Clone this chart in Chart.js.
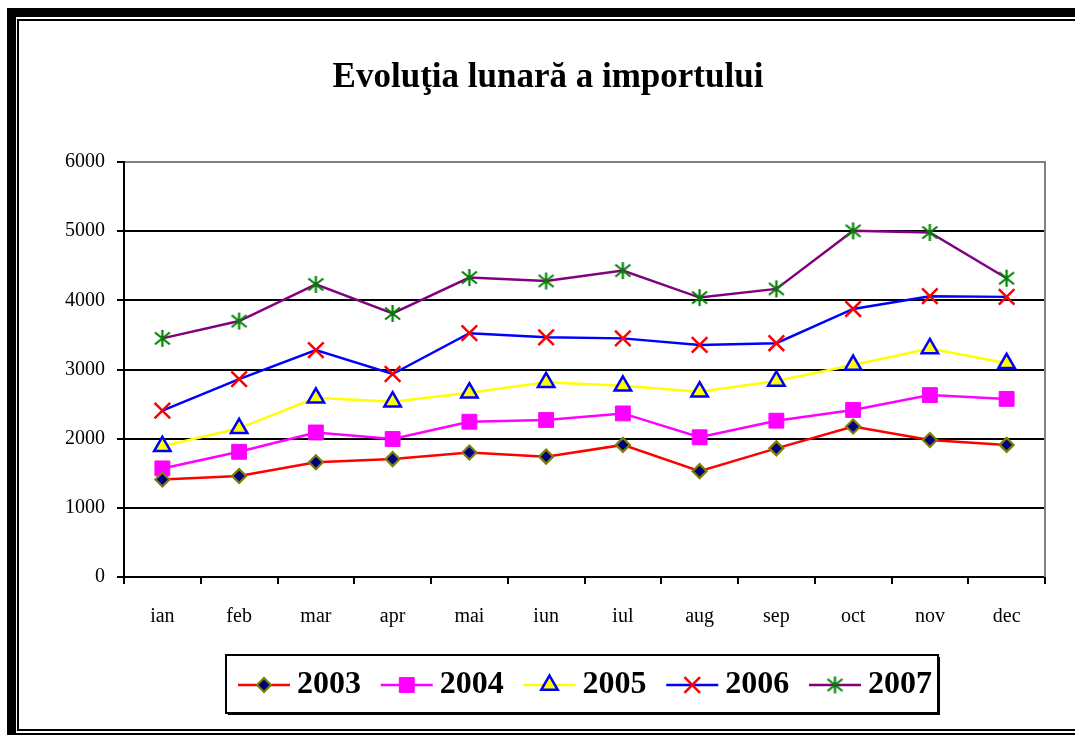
<!DOCTYPE html>
<html>
<head>
<meta charset="utf-8">
<title>Evoluţia lunară a importului</title>
<script src="https://cdn.jsdelivr.net/npm/chart.js@4.4.1/dist/chart.umd.min.js"></script>
<style>
  html, body { margin: 0; padding: 0; background: #fff; }
  canvas { display: block; }
</style>
</head>
<body>
<canvas id="importChart" width="1075" height="735"></canvas>
<script>
// luni + valori
var months = ['ian', 'feb', 'mar', 'apr', 'mai', 'iun', 'iul', 'aug', 'sep', 'oct', 'nov', 'dec'];
var years = ['2003', '2004', '2005', '2006', '2007'];
var imp2003 = [1410, 1460, 1660, 1705, 1800, 1740, 1910, 1530, 1860, 2175, 1980, 1910];
var imp2004 = [1570, 1810, 2090, 1995, 2245, 2270, 2365, 2020, 2260, 2415, 2630, 2575];
var imp2005 = [1890, 2150, 2590, 2535, 2665, 2815, 2765, 2680, 2835, 3065, 3305, 3090];
var imp2006 = [2405, 2860, 3280, 2935, 3525, 3465, 3450, 3355, 3380, 3875, 4060, 4050];
var imp2007 = [3450, 3700, 4230, 3810, 4330, 4280, 4430, 4040, 4165, 5005, 4980, 4320];
var yMax = 6000;
var yStep = 1000;

var serif = "'Liberation Serif', 'Times New Roman', serif";

// marker asterisc (vertical + X), ca in Excel
function makeStar(color) {
    var c = document.createElement('canvas');
    c.width = 19;
    c.height = 19;
    var g = c.getContext('2d');
    g.strokeStyle = color;
    g.lineWidth = 2.2;
    g.beginPath();
    g.moveTo(9.5, 1); g.lineTo(9.5, 18);
    g.moveTo(2, 3.5); g.lineTo(17, 15.5);
    g.moveTo(17, 3.5); g.lineTo(2, 15.5);
    g.stroke();
    return c;
}
var starMarker = makeStar('#008000');

// rama exterioara a foii
var framePlugin = {
    id: 'frame',
    beforeDraw: function(chart) {
        var ctx = chart.ctx;
        ctx.save();
        ctx.fillStyle = '#fff';
        ctx.fillRect(0, 0, chart.width, chart.height);
        ctx.fillStyle = '#000';
        ctx.fillRect(7, 8, chart.width, 9);
        ctx.fillRect(7, 8, 9, chart.height);
        ctx.fillRect(7, 733, chart.width, 2);
        ctx.strokeStyle = '#000';
        ctx.lineWidth = 2;
        ctx.strokeRect(18, 20, chart.width + 10, 710);
        ctx.restore();
    },
    afterDatasetsDraw: function(chart) {
        // marginea dreapta a zonei de desen, gri
        var a = chart.chartArea;
        var ctx = chart.ctx;
        ctx.save();
        ctx.strokeStyle = '#808080';
        ctx.lineWidth = 2;
        ctx.beginPath();
        ctx.moveTo(a.right, a.top - 1);
        ctx.lineTo(a.right, a.bottom);
        ctx.stroke();
        ctx.restore();
    }
};

// legenda cu linie + marker, intr-un chenar
var boxLegend = {
    id: 'boxLegend',
    afterDraw: function(chart) {
        var ctx = chart.ctx;
        var bx = 226, by = 655, bw = 712, bh = 58;
        ctx.save();
        ctx.fillStyle = '#000';
        ctx.fillRect(bx + 2, by + 2, bw, bh);
        ctx.fillStyle = '#fff';
        ctx.fillRect(bx, by, bw, bh);
        ctx.strokeStyle = '#000';
        ctx.lineWidth = 2;
        ctx.strokeRect(bx, by, bw, bh);

        var cy = by + bh / 2 + 1;
        var x = 238;
        ctx.font = 'bold 32px ' + serif;
        ctx.textBaseline = 'middle';
        ctx.textAlign = 'left';
        chart.data.datasets.forEach(function(ds) {
            ctx.strokeStyle = ds.borderColor;
            ctx.lineWidth = ds.borderWidth;
            ctx.beginPath();
            ctx.moveTo(x, cy);
            ctx.lineTo(x + 52, cy);
            ctx.stroke();
            ctx.fillStyle = ds.pointBackgroundColor;
            ctx.strokeStyle = ds.pointBorderColor;
            ctx.lineWidth = ds.pointBorderWidth;
            Chart.helpers.drawPoint(ctx, {
                pointStyle: ds.pointStyle,
                radius: ds.pointRadius,
                borderWidth: ds.pointBorderWidth,
                rotation: 0
            }, x + 26, cy);
            ctx.fillStyle = '#000';
            ctx.fillText(ds.label, x + 59, cy);
            x += 59 + ctx.measureText(ds.label).width + 19.75;
        });
        ctx.restore();
    }
};

var ctx = document.getElementById('importChart').getContext('2d');
var importChart = new Chart(ctx, {
    type: 'line',
    data: {
        labels: months,
        datasets: [{
            label: years[0],
            data: imp2003,
            borderColor: '#FF0000',
            borderWidth: 2.5,
            pointStyle: 'rectRot',
            pointRadius: 7,
            pointBackgroundColor: '#000080',
            pointBorderColor: '#808000',
            pointBorderWidth: 2.2
        }, {
            label: years[1],
            data: imp2004,
            borderColor: '#FF00FF',
            borderWidth: 2.5,
            pointStyle: 'rect',
            pointRadius: 10.5,
            pointBackgroundColor: '#FF00FF',
            pointBorderColor: '#FF00FF',
            pointBorderWidth: 1
        }, {
            label: years[2],
            data: imp2005,
            borderColor: '#FFFF00',
            borderWidth: 2.5,
            pointStyle: 'triangle',
            pointRadius: 9.5,
            pointBackgroundColor: '#FFFF00',
            pointBorderColor: '#0000FF',
            pointBorderWidth: 2.5
        }, {
            label: years[3],
            data: imp2006,
            borderColor: '#0000FF',
            borderWidth: 2.5,
            pointStyle: 'crossRot',
            pointRadius: 11,
            pointBackgroundColor: '#FF0000',
            pointBorderColor: '#FF0000',
            pointBorderWidth: 2.5
        }, {
            label: years[4],
            data: imp2007,
            borderColor: '#800080',
            borderWidth: 2.5,
            pointStyle: starMarker,
            pointRadius: 9,
            pointBackgroundColor: '#008000',
            pointBorderColor: '#008000',
            pointBorderWidth: 2
        }]
    },
    options: {
        responsive: false,
        animation: false,
        devicePixelRatio: 1,
        layout: {
            padding: { left: 51, right: 30, top: 40, bottom: 108 }
        },
        elements: {
            line: { tension: 0, fill: false }
        },
        plugins: {
            legend: { display: false },
            tooltip: { enabled: false },
            title: {
                display: true,
                text: 'Evoluţia lunară a importului',
                color: '#000',
                font: { family: serif, size: 35, weight: 'bold', lineHeight: 1.2 },
                padding: { top: 17, bottom: 63 }
            }
        },
        scales: {
            x: {
                offset: true,
                grid: {
                    offset: true,
                    drawOnChartArea: false,
                    color: '#000',
                    lineWidth: 2,
                    tickLength: 7
                },
                border: { color: '#000', width: 2 },
                ticks: {
                    color: '#000',
                    padding: 21,
                    maxRotation: 0,
                    font: { family: serif, size: 20 }
                },
                afterFit: function(scale) { scale.height = 50; }
            },
            y: {
                min: 0,
                max: yMax,
                grid: {
                    color: function(c) {
                        return c.tick && c.tick.value === yMax ? '#808080' : '#000';
                    },
                    tickColor: '#000',
                    lineWidth: 2,
                    tickLength: 7
                },
                border: { color: '#000', width: 2 },
                ticks: {
                    stepSize: yStep,
                    color: '#000',
                    padding: 12,
                    font: { family: serif, size: 20 },
                    callback: function(v) { return String(v); }
                },
                afterFit: function(scale) { scale.width = 73; }
            }
        }
    },
    plugins: [framePlugin, boxLegend]
});
</script>
</body>
</html>
